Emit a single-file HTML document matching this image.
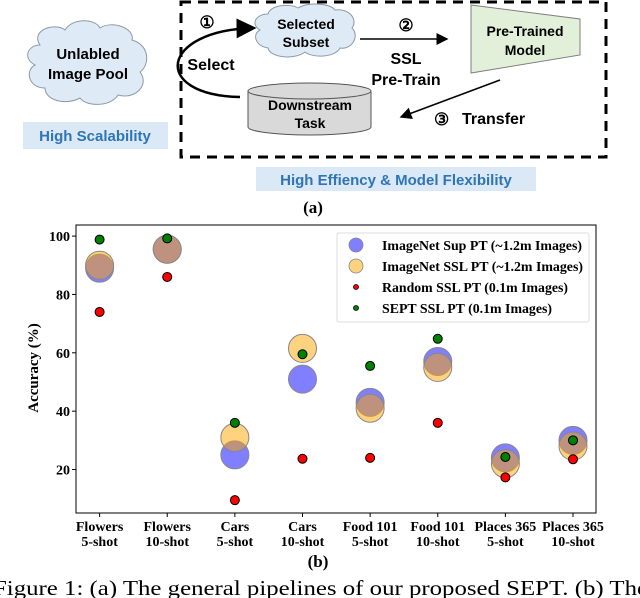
<!DOCTYPE html>
<html><head><meta charset="utf-8"><style>
html,body{margin:0;padding:0;background:#fff;}
svg{display:block;}
.sans{font-family:"Liberation Sans",sans-serif;font-weight:bold;}
.serif{font-family:"Liberation Serif",serif;}
</style></head><body>
<svg id="fig" width="640" height="598" viewBox="0 0 640 598" xmlns="http://www.w3.org/2000/svg">
<defs><marker id="ah" markerWidth="8" markerHeight="8" refX="7" refY="4" orient="auto"><path d="M0,0 L8,4 L0,8 z" fill="#000"/></marker></defs>
<g>
  <rect x="181" y="2" width="425" height="155" fill="none" stroke="#000" stroke-width="3" stroke-dasharray="10,7"/>
  <g>
    <path d="M40,45 C30,30 55,22 65,30 C72,18 95,18 100,28 C112,20 135,28 132,40 C150,45 150,65 140,72 C150,85 135,100 118,95 C110,108 85,106 80,98 C65,106 45,100 45,88 C28,88 25,70 35,65 C22,58 28,45 40,45 Z" fill="#deebf7" stroke="#8c9aa8" stroke-width="1"/>
    <text x="88" y="59" text-anchor="middle" class="sans" font-size="15">Unlabled</text>
    <text x="88" y="79" text-anchor="middle" class="sans" font-size="15">Image Pool</text>
  </g>
  <rect x="23" y="122" width="145" height="27" fill="#dbe8f5"/>
  <text x="95" y="141" text-anchor="middle" class="sans" font-size="15" fill="#2e75b6">High Scalability</text>
  <g>
    <path d="M268,14 C270,5 290,3 298,8 C308,2 330,3 335,10 C350,8 358,20 352,28 C360,36 352,50 340,48 C335,58 312,58 305,52 C295,60 270,58 268,48 C255,46 252,34 260,30 C250,24 256,14 268,14 Z" fill="#deebf7" stroke="#8c9aa8" stroke-width="1"/>
    <text x="306" y="29" text-anchor="middle" class="sans" font-size="14">Selected</text>
    <text x="306" y="47" text-anchor="middle" class="sans" font-size="14">Subset</text>
  </g>
  <text x="207" y="28" text-anchor="middle" class="sans" font-size="17" font-weight="normal">①</text>
  <path d="M240,97 C150,95 160,30 254,28" fill="none" stroke="#000" stroke-width="2.5" marker-end="url(#ah)"/>
  <text x="211" y="70" text-anchor="middle" class="sans" font-size="16">Select</text>
  <text x="406" y="31" text-anchor="middle" class="sans" font-size="17" font-weight="normal">②</text>
  <line x1="360" y1="39" x2="447" y2="39" stroke="#000" stroke-width="1.5" marker-end="url(#ah)"/>
  <text x="406" y="64" text-anchor="middle" class="sans" font-size="16">SSL</text>
  <text x="406" y="85" text-anchor="middle" class="sans" font-size="16">Pre-Train</text>
  <path d="M471,5 L580,19 L580,55 L471,73 Z" fill="#e2f0d9" stroke="#7f7f7f" stroke-width="1"/>
  <text x="525" y="36" text-anchor="middle" class="sans" font-size="14">Pre-Trained</text>
  <text x="525" y="55" text-anchor="middle" class="sans" font-size="14">Model</text>
  <g>
    <path d="M248,91 L248,127 A61.5,8 0 0 0 371,127 L371,91" fill="#d9d9d9" stroke="#555" stroke-width="1"/>
    <ellipse cx="309.5" cy="91" rx="61.5" ry="8" fill="#d9d9d9" stroke="#555" stroke-width="1"/>
    <text x="310" y="110" text-anchor="middle" class="sans" font-size="14">Downstream</text>
    <text x="310" y="128" text-anchor="middle" class="sans" font-size="14">Task</text>
  </g>
  <line x1="500" y1="80" x2="401" y2="117" stroke="#000" stroke-width="1.5" marker-end="url(#ah)"/>
  <text x="434" y="125" class="sans" font-size="17" font-weight="normal">③</text>
  <text x="462" y="124" class="sans" font-size="16">Transfer</text>
  <rect x="256" y="167" width="280" height="24" fill="#dbe8f5"/>
  <text x="396" y="185" text-anchor="middle" class="sans" font-size="15" fill="#2e75b6">High Effiency &amp; Model Flexibility</text>
  <text x="313" y="213" text-anchor="middle" class="serif" font-weight="bold" font-size="17">(a)</text>
</g>
<g id="chart"></g>
<text x="318" y="567" text-anchor="middle" class="serif" font-weight="bold" font-size="17">(b)</text>
<text x="-7" y="595" class="serif" font-size="21" textLength="655" lengthAdjust="spacingAndGlyphs">Figure 1: (a) The general pipelines of our proposed SEPT. (b) The</text>
</svg>
<script>
const categories = [["Flowers","5-shot"],["Flowers","10-shot"],["Cars","5-shot"],["Cars","10-shot"],["Food 101","5-shot"],["Food 101","10-shot"],["Places 365","5-shot"],["Places 365","10-shot"]];
const supPT = [89, 95.5, 25, 51, 43, 57, 24, 30];
const sslPT = [90, 95.5, 31, 61.5, 41, 55, 22, 28];
const randomPT = [74, 86, 9.5, 23.7, 24, 36, 17.3, 23.5];
const septPT = [98.8, 99.2, 36, 59.5, 55.5, 64.8, 24.3, 30];
const yTicks = [20, 40, 60, 80, 100];
const legendLabels = ["ImageNet Sup PT (~1.2m Images)","ImageNet SSL PT (~1.2m Images)","Random SSL PT (0.1m Images)","SEPT SSL PT (0.1m Images)"];
const legendWidths = [200, 201, 186, 170];

const NS = "http://www.w3.org/2000/svg";
const g = document.getElementById("chart");
const L = 76, R = 596, T = 225, B = 513;
const yMin = 5.1, yMax = 103.8;
function y(v){ return B - (v - yMin) / (yMax - yMin) * (B - T); }
function x(i){ return 99.6 + i * 67.63; }
function mk(tag, attrs, parent){ const e = document.createElementNS(NS, tag); for (const k in attrs) e.setAttribute(k, attrs[k]); (parent||g).appendChild(e); return e; }

const frame = mk("rect", {x:L, y:T, width:R-L, height:B-T, fill:"none", stroke:"#000", "stroke-width":1});



yTicks.forEach(t => {
  const tk = mk("line", {x1:L-4, x2:L, y1:y(t), y2:y(t), stroke:"#000"});
  
  
  const tl = mk("text", {x:L-6, y:y(t)+5, "text-anchor":"end", "font-family":"Liberation Serif, serif", "font-weight":"bold", "font-size":14});
  tl.textContent = t;
  
  
});
const yt = mk("text", {x:0, y:0, transform:"translate(38,368) rotate(-90)", "text-anchor":"middle", "font-family":"Liberation Serif, serif", "font-weight":"bold", "font-size":15});
yt.textContent = "Accuracy (%)";



categories.forEach((c, i) => {
  const tk = mk("line", {x1:x(i), x2:x(i), y1:B, y2:B+4, stroke:"#000"});
  
  
  c.forEach((line, j) => {
    const tl = mk("text", {x:x(i), y:531 + j*15, "text-anchor":"middle", "font-family":"Liberation Serif, serif", "font-weight":"bold", "font-size":14});
    tl.textContent = line;
    
    
  });
});

function bubbles(arr, fill, r, op, stroke, name){
  arr.forEach((v, i) => {
    const c = mk("circle", {cx:x(i), cy:y(v), r:r, fill:fill, "fill-opacity":op, stroke:stroke, "stroke-width":1});
    
    
  });
}
bubbles(supPT, "#0000ff", 14, 0.5, "#888", "sup-pt-bubble");
bubbles(sslPT, "#ffa500", 14, 0.5, "#888", "ssl-pt-bubble");
bubbles(randomPT, "#ff0000", 4.5, 1, "#000", "random-pt-dot");
bubbles(septPT, "#008000", 4.5, 1, "#000", "sept-pt-dot");

const lg = mk("rect", {x:337, y:233, width:252, height:89, fill:"#fff", stroke:"#ddd", rx:2});


const lstyles = [["#0000ff",0.5,7,"#888"],["#ffa500",0.5,7,"#888"],["#ff0000",1,2.5,"#000"],["#008000",1,2.5,"#000"]];
legendLabels.forEach((lab, i) => {
  const ly = 245 + i*21;
  const m = mk("circle", {cx:356, cy:ly, r:lstyles[i][2], fill:lstyles[i][0], "fill-opacity":lstyles[i][1], stroke:lstyles[i][3], "stroke-width":0.8});
  
  
  const t = mk("text", {x:382, y:ly+5, "font-family":"Liberation Serif, serif", "font-weight":"bold", "font-size":14, textLength:legendWidths[i], lengthAdjust:"spacingAndGlyphs"});
  t.textContent = lab;
  
  
});
</script>
</body></html>
